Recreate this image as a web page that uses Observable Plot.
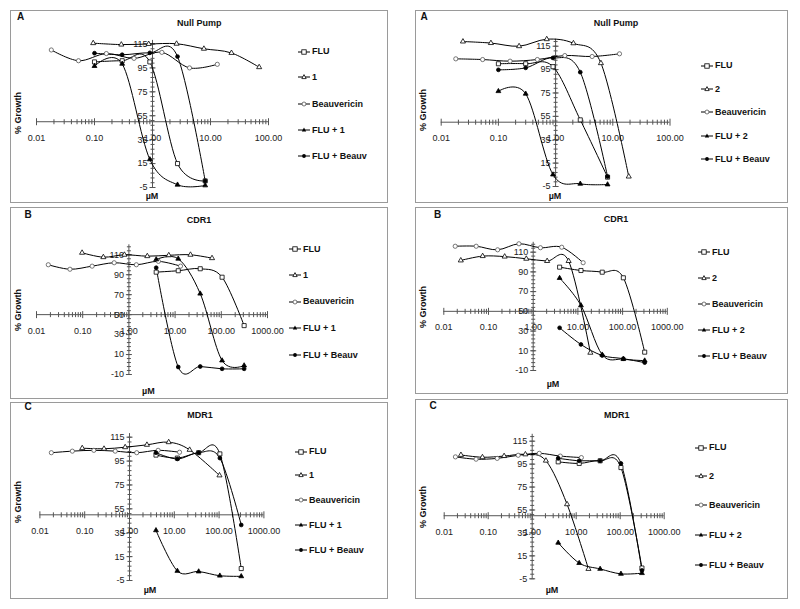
<!DOCTYPE html>
<html><head><meta charset="utf-8">
<script src="https://cdn.jsdelivr.net/npm/d3@7"></script>
<script src="https://cdn.jsdelivr.net/npm/@observablehq/plot@0.6"></script>
<style>
body{margin:0;background:#fff;width:800px;height:609px;position:relative;overflow:hidden;font-family:"Liberation Sans",Arial,sans-serif;}
.box{position:absolute;border:1px solid #9a9a9a;box-sizing:border-box;pointer-events:none;}
.plot{position:absolute;}
.lbl{position:absolute;font-weight:bold;font-size:9px;color:#111;white-space:nowrap;transform:translate(-50%,-50%);line-height:1;}
.lbl.big{font-size:10px;}
.rot{transform:translate(-50%,-50%) rotate(-90deg);}
.leg{position:absolute;font-weight:bold;font-size:9px;color:#111;white-space:nowrap;line-height:1;transform:translateY(-50%);display:flex;align-items:center;}
.leg svg{margin-right:2px;}
</style>
</head><body>
<script>
// ---------------- DATA ----------------
// doses (µM)
const doseFLU_lo = [0.1, 0.3, 0.9, 2.7, 8.1];
const doseFLU_hi = [3.9, 11.7, 35, 104, 312];
const doseBeauv = [0.018, 0.053, 0.16, 0.48, 1.45, 4.35, 13.1];
const dose1_A = [0.095, 0.29, 0.86, 2.6, 7.7, 23, 69];
const dose1_B = [0.097, 0.28, 0.8, 2.5, 7.3, 21.5, 63];
const dose1_C = [0.088, 0.27, 0.8, 2.45, 7.5, 22, 102];
const dose2 = [0.024, 0.074, 0.23, 0.7, 2.05, 6.2, 19];

// % growth, panel A (Null Pump), compound 1
const LA_FLU = [100, 101, 100, 15, 0.5];
const LA_1 = [115.7, 114.5, 115, 115.2, 111, 107.5, 95.6];
const LA_Beauv = [110, 101, 107, 103, 108, 95, 98];
const LA_FLU1 = [96.5, 98.4, 18.5, -2.7, -3.3];
const LA_FLUBeauv = [107.3, 106, 107.6, 104.5, 0.5];
// panel A (Null Pump), compound 2
const RA_FLU = [100, 100, 97.5, 52, 3];
const RA_2 = [119, 117.7, 115, 121, 117.5, 100.5, 3.5];
const RA_Beauv = [104.2, 103.6, 102.2, 103.6, 107, 106.2, 108.5];
const RA_FLU2 = [76.5, 74.3, 5.2, -2.7, -3.3];
const RA_FLUBeauv = [94.8, 96.5, 105, 92.8, 3.5];
// panel B (CDR1), compound 1
const LB_FLU = [92.6, 94, 96, 87.5, 39];
const LB_1 = [112, 107.6, 110, 108.6, 109.5, 110, 106.6];
const LB_Beauv = [100, 95.5, 98.6, 102, 100, 103.4, 98.6];
const LB_FLU1 = [105.3, 106, 71, 4, -1];
const LB_FLUBeauv = [97, -2.5, -2, -4.3, -4.3];
// panel B (CDR1), compound 2
const RB_FLU = [94.8, 91.4, 89.7, 84, 8.6];
const RB_2 = [101.6, 106, 105.5, 103.3, 101, 101, 8];
const RB_Beauv = [116, 116, 112.4, 118.5, 114.5, 115, 99.3];
const RB_FLU2 = [83.7, 56, 6, 1.5, 0];
const RB_FLUBeauv = [33.3, 16.4, 5.2, 2, -2];
// panel C (MDR1), compound 1
const LC_FLU = [100, 97.5, 102, 101, 5];
const LC_1 = [105.8, 105.3, 106.6, 108.6, 110.8, 104.4, 83];
const LC_Beauv = [102, 103.3, 104, 103.3, 102, 104, 102.4];
const LC_FLU1 = [37, 3, 2.5, -1, -1.5];
const LC_FLUBeauv = [102, 96.8, 102, 97.5, 41.5];
// panel C (MDR1), compound 2
const RC_FLU = [97, 95.6, 97.9, 92, 4.4];
const RC_2 = [103, 101, 102, 103.5, 98, 60, 3.6];
const RC_Beauv = [101.3, 99.3, 100, 102.7, 104.4, 102, 100.7];
const RC_FLU2 = [26.4, 8.7, 3.6, -0.7, -0.1];
const RC_FLUBeauv = [100.1, 97.9, 97.9, 95.6, 2.3];

// ticks and labels
const xTicksA = [0.01, 0.1, 1, 10, 100];
const xTicksBC = [0.01, 0.1, 1, 10, 100, 1000];
const yTicksAC = [-5, 15, 35, 55, 75, 95, 115];
const yTicksB = [-10, 10, 30, 50, 70, 90, 110];
const namesL = ["FLU", "1", "Beauvericin", "FLU + 1", "FLU + Beauv"];
const namesR = ["FLU", "2", "Beauvericin", "FLU + 2", "FLU + Beauv"];
const xTitle = "\u00b5M";
const yTitle = "% Growth";

// ---------------- PANELS ----------------
const panels = [
  {key:"LA", letter:"A", title:"Null Pump", names:namesL, xTicks:xTicksA, yTicks:yTicksAC, yMin:-5, yMax:118, cross:50,
   series:[[doseFLU_lo,LA_FLU],[dose1_A,LA_1],[doseBeauv,LA_Beauv],[doseFLU_lo,LA_FLU1],[doseFLU_lo,LA_FLUBeauv]]},
  {key:"RA", letter:"A", title:"Null Pump", names:namesR, xTicks:xTicksA, yTicks:yTicksAC, yMin:-5, yMax:121, cross:50,
   series:[[doseFLU_lo,RA_FLU],[dose2,RA_2],[doseBeauv,RA_Beauv],[doseFLU_lo,RA_FLU2],[doseFLU_lo,RA_FLUBeauv]]},
  {key:"LB", letter:"B", title:"CDR1", names:namesL, xTicks:xTicksBC, yTicks:yTicksB, yMin:-10, yMax:120, cross:50,
   series:[[doseFLU_hi,LB_FLU],[dose1_B,LB_1],[doseBeauv,LB_Beauv],[doseFLU_hi,LB_FLU1],[doseFLU_hi,LB_FLUBeauv]]},
  {key:"RB", letter:"B", title:"CDR1", names:namesR, xTicks:xTicksBC, yTicks:yTicksB, yMin:-10, yMax:120, cross:50,
   series:[[doseFLU_hi,RB_FLU],[dose2,RB_2],[doseBeauv,RB_Beauv],[doseFLU_hi,RB_FLU2],[doseFLU_hi,RB_FLUBeauv]]},
  {key:"LC", letter:"C", title:"MDR1", names:namesL, xTicks:xTicksBC, yTicks:yTicksAC, yMin:-5, yMax:118, cross:50,
   series:[[doseFLU_hi,LC_FLU],[dose1_C,LC_1],[doseBeauv,LC_Beauv],[doseFLU_hi,LC_FLU1],[doseFLU_hi,LC_FLUBeauv]]},
  {key:"RC", letter:"C", title:"MDR1", names:namesR, xTicks:xTicksBC, yTicks:yTicksAC, yMin:-5, yMax:121, cross:50,
   series:[[doseFLU_hi,RC_FLU],[dose2,RC_2],[doseBeauv,RC_Beauv],[doseFLU_hi,RC_FLU2],[doseFLU_hi,RC_FLUBeauv]]}
];

// layout (page pixels)
const layout = {
  LA:{box:[10,10,378,193], m:[29.9,120,16,26], leg:{sx:298,tx:312,rows:[51.7,77.3,104,130,156]}, letter:[20.7,17.3], title:[199.3,23], ylab:[18,113], xlab:[152,196]},
  RA:{box:[415,10,373,193], m:[28.7,118.5,17,25.7], leg:{sx:701,tx:715,rows:[65.7,89,112.3,136,159.3]}, letter:[424,17], title:[616,23], ylab:[422.7,110], xlab:[555,196]},
  LB:{box:[10,207,378,192], m:[37.3,121,25,26], leg:{sx:289,tx:303,rows:[249,275,301.7,328.3,355]}, letter:[28,215], title:[199,220], ylab:[18.3,310], xlab:[148.3,391]},
  RB:{box:[415,207,373,187], m:[34.8,121.2,24,28.3], leg:{sx:698,tx:712,rows:[252,278,304,330,356]}, letter:[437.7,215], title:[616,219], ylab:[422.7,306.7], xlab:[553,384]},
  LC:{box:[10,402,378,197], m:[31.1,124.6,19,29.4], leg:{sx:295,tx:309,rows:[451.7,475,500,525,550]}, letter:[28,407], title:[200,415], ylab:[18.3,501.7], xlab:[150,590]},
  RC:{box:[415,399,373,200], m:[34.8,124.3,20.7,28.7], leg:{sx:695,tx:709,rows:[447.7,476,505,535,565]}, letter:[433,406], title:[616.7,415], ylab:[422.7,506.7], xlab:[552,590]}
};

const styles = [
  {symbol:"square", fill:"#fff", stroke:"#000", r:2.3},
  {symbol:"triangle", fill:"#fff", stroke:"#000", r:1.9},
  {symbol:"circle", fill:"#fff", stroke:"#555", r:2.1},
  {symbol:"triangle", fill:"#000", stroke:"#000", r:1.8},
  {symbol:"circle", fill:"#000", stroke:"#000", r:1.9}
];

const vTick = (h) => ({draw(ctx){ ctx.moveTo(0,-h); ctx.lineTo(0,h); }});
const hTick = (w) => ({draw(ctx){ ctx.moveTo(-w,0); ctx.lineTo(w,0); }});

function add(html){ document.body.insertAdjacentHTML("beforeend", html); }

function swatch(i){
  const ln = `<line x1="0" y1="5" x2="12" y2="5" stroke="#000" stroke-width="1"/>`;
  let m = "";
  if (i===0) m = `<rect x="3.8" y="2.8" width="4.4" height="4.4" fill="#fff" stroke="#000" stroke-width="0.8"/>`;
  if (i===1) m = `<path d="M6,2.6L8.2,6.6L3.8,6.6Z" fill="#fff" stroke="#000" stroke-width="0.8"/>`;
  if (i===2) m = `<circle cx="6" cy="5" r="2" fill="#fff" stroke="#555" stroke-width="0.8"/>`;
  if (i===3) m = `<path d="M6,2.6L8.2,6.6L3.8,6.6Z" fill="#000"/>`;
  if (i===4) m = `<circle cx="6" cy="5" r="1.9" fill="#000"/>`;
  return `<svg width="12" height="10" style="overflow:visible">${ln}${m}</svg>`;
}

for (const p of panels) {
  const L = layout[p.key];
  const [bx, by, bw, bh] = L.box;
  const [mt, mr, mb, ml] = L.m;
  const xMin = p.xTicks[0], xMax = p.xTicks[p.xTicks.length-1];
  const minorX = [];
  for (let k = 0; k < p.xTicks.length-1; k++) for (let j = 2; j <= 9; j++) minorX.push(p.xTicks[k]*j);
  const minorY = [];
  for (let v = p.yMin; v <= p.yMax; v += 4) minorY.push(v);

  const marks = [
    Plot.ruleY([p.cross], {x1: xMin, x2: xMax, stroke:"#555", strokeWidth:1}),
    Plot.ruleX([1], {y1: p.yMin, y2: p.yMax, stroke:"#555", strokeWidth:1}),
    Plot.dot(minorX, {x: d=>d, y: p.cross, symbol: vTick(2.5), stroke:"#555", fill:"none", strokeWidth:1}),
    Plot.dot(p.xTicks, {x: d=>d, y: p.cross, symbol: vTick(3.5), stroke:"#555", fill:"none", strokeWidth:1}),
    Plot.dot(minorY, {x: 1, y: d=>d, symbol: hTick(2), stroke:"#555", fill:"none", strokeWidth:1}),
    Plot.dot(p.yTicks, {x: 1, y: d=>d, symbol: hTick(3), stroke:"#555", fill:"none", strokeWidth:1}),
    Plot.text(p.yTicks, {x: 1, y: d=>d, text: d=>String(d), textAnchor:"end", dx:-5, fontSize:9, fill:"#222"}),
    Plot.text(p.xTicks, {x: d=>d, y: p.cross, text: d=>d.toFixed(2), dy:16, fontSize:9, fill:"#222"})
  ];
  p.series.forEach(([xs, ys]) => {
    const data = xs.map((x, i) => ({x, y: ys[i]}));
    marks.push(Plot.line(data, {x:"x", y:"y", curve:"cardinal", tension:0, stroke:"#000", strokeWidth:1}));
  });
  p.series.forEach(([xs, ys], si) => {
    const data = xs.map((x, i) => ({x, y: ys[i]}));
    const s = styles[si];
    marks.push(Plot.dot(data, {x:"x", y:"y", symbol:s.symbol, fill:s.fill, stroke:s.stroke, r:s.r, strokeWidth:0.8}));
  });

  const chart = Plot.plot({
    width: bw, height: bh,
    marginTop: mt, marginRight: mr, marginBottom: mb, marginLeft: ml,
    x: {type:"log", domain:[xMin, xMax], axis:null},
    y: {domain:[p.yMin, p.yMax], axis:null},
    style: {background:"transparent", overflow:"visible", fontFamily:"Liberation Sans, Arial, sans-serif"},
    marks
  });
  const wrap = document.createElement("div");
  wrap.className = "plot";
  wrap.style.left = bx + "px"; wrap.style.top = by + "px";
  wrap.appendChild(chart);
  document.body.appendChild(wrap);

  add(`<div class="box" style="left:${bx}px;top:${by}px;width:${bw}px;height:${bh}px"></div>`);
  add(`<div class="lbl big" style="left:${L.letter[0]}px;top:${L.letter[1]}px">${p.letter}</div>`);
  add(`<div class="lbl" style="left:${L.title[0]}px;top:${L.title[1]}px">${p.title}</div>`);
  add(`<div class="lbl rot" style="left:${L.ylab[0]}px;top:${L.ylab[1]}px">${yTitle}</div>`);
  add(`<div class="lbl" style="left:${L.xlab[0]}px;top:${L.xlab[1]}px">${xTitle}</div>`);
  p.names.forEach((n, i) => {
    add(`<div class="leg" style="left:${L.leg.sx}px;top:${L.leg.rows[i]}px">${swatch(i)}<span>${n}</span></div>`);
  });
}
</script>
</body></html>
